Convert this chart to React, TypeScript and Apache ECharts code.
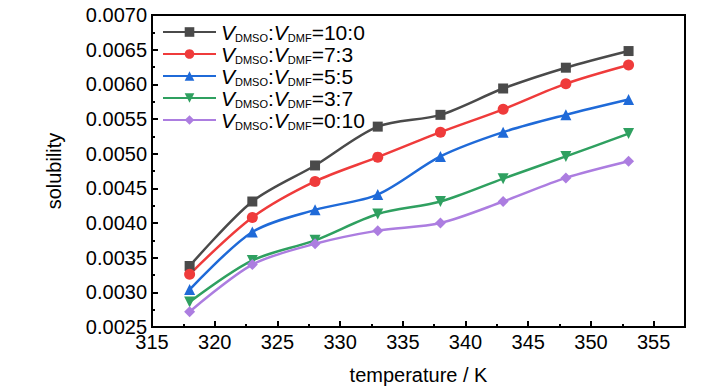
import React, { useEffect, useRef } from "react";
import * as echarts from "echarts";

const temperatures = [318, 323, 328, 333, 338, 343, 348, 353];
const ratioLabels = ["10:0", "7:3", "5:5", "3:7", "0:10"];
const s100 = [0.00338, 0.00431, 0.00483, 0.00539, 0.00556, 0.00594, 0.00624, 0.00648];
const s73 = [0.00326, 0.00408, 0.0046, 0.00495, 0.00531, 0.00564, 0.00601, 0.00628];
const s55 = [0.00304, 0.00387, 0.00419, 0.00441, 0.00496, 0.00531, 0.00556, 0.00578];
const s37 = [0.00286, 0.00346, 0.00375, 0.00413, 0.00431, 0.00464, 0.00496, 0.00529];
const s010 = [0.00272, 0.0034, 0.0037, 0.00389, 0.004, 0.00431, 0.00465, 0.00489];
const seriesValues = [s100, s73, s55, s37, s010];
const colors = ["#4a4a4a", "#ef3b3b", "#1f6ad8", "#2fa060", "#ac7de0"];
const symbols = ["rect", "circle", "triangle", "triangle", "diamond"];
const rotations = [0, 0, 0, 180, 0];

const FONT = "'Liberation Sans', Arial, sans-serif";

export default function App() {
  const ref = useRef<HTMLDivElement>(null);
  useEffect(() => {
    if (!ref.current) return;
    const chart = echarts.init(ref.current, undefined, { renderer: "svg" });
    const names = ratioLabels.map((r) => `V_DMSO:V_DMF=${r}`);
    chart.setOption({
      animation: false,
      textStyle: { fontFamily: FONT },
      grid: {
        left: 152,
        right: 43,
        top: 15,
        bottom: 62,
        show: true,
        borderColor: "#000",
        borderWidth: 2,
      },
      legend: {
        orient: "vertical",
        left: 162,
        top: 21,
        padding: 0,
        itemWidth: 53,
        itemHeight: 12,
        itemGap: 0,
        data: names,
        formatter: (name: string) => {
          const r = name.split("=")[1];
          return `{i|V}{s|DMSO}{n|:}{i|V}{s|DMF}{n|=${r}}`;
        },
        textStyle: {
          color: "#000",
          fontFamily: FONT,
          rich: {
            i: { fontSize: 21, fontStyle: "italic", fontFamily: FONT, lineHeight: 23, color: "#000" },
            n: { fontSize: 21, fontFamily: FONT, lineHeight: 23, color: "#000" },
            s: { fontSize: 11, fontFamily: FONT, lineHeight: 23, padding: [11, 0, 0, 0], color: "#000" },
          },
        },
      },
      xAxis: {
        type: "value",
        min: 315,
        max: 357.5,
        interval: 5,
        name: "temperature / K",
        nameLocation: "middle",
        nameGap: 38,
        nameTextStyle: { fontSize: 20, color: "#000", fontFamily: FONT },
        axisLine: { lineStyle: { color: "#000", width: 2 } },
        axisTick: { inside: true, length: 6, lineStyle: { color: "#000", width: 2 } },
        minorTick: { show: true, splitNumber: 2, length: 3, lineStyle: { color: "#000", width: 2 } },
        splitLine: { show: false },
        axisLabel: {
          fontSize: 20,
          color: "#000",
          margin: 5,
          fontFamily: FONT,
          formatter: (v: number) => (v % 5 === 0 ? String(v) : ""),
        },
      },
      yAxis: {
        type: "value",
        min: 0.0025,
        max: 0.007,
        interval: 0.0005,
        name: "solubility",
        nameLocation: "middle",
        nameGap: 88,
        nameTextStyle: { fontSize: 20, color: "#000", fontFamily: FONT },
        axisLine: { lineStyle: { color: "#000", width: 2 } },
        axisTick: { inside: true, length: 6, lineStyle: { color: "#000", width: 2 } },
        minorTick: { show: true, splitNumber: 2, length: 3, lineStyle: { color: "#000", width: 2 } },
        splitLine: { show: false },
        axisLabel: {
          fontSize: 20,
          color: "#000",
          margin: 5,
          fontFamily: FONT,
          formatter: (v: number) => v.toFixed(4),
        },
      },
      series: seriesValues.map((vals, i) => ({
        name: names[i],
        type: "line",
        smooth: 0.3,
        data: temperatures.map((t, j) => [t, vals[j]]),
        symbol: symbols[i],
        symbolRotate: rotations[i],
        symbolSize: i === 0 ? 10 : 11,
        showAllSymbol: true,
        itemStyle: { color: colors[i] },
        lineStyle: { color: colors[i], width: 2.5 },
      })),
    });
    return () => chart.dispose();
  }, []);
  return (
    <div
      ref={ref}
      style={{ position: "fixed", left: 0, top: 0, width: 728, height: 390, background: "#fff" }}
    />
  );
}
